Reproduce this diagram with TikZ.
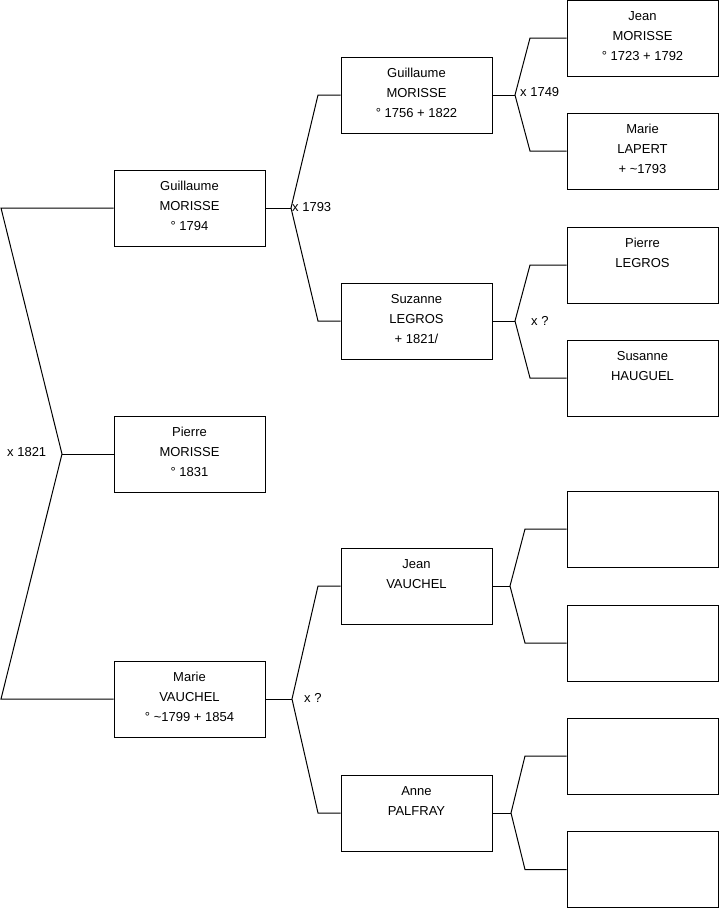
\documentclass[tikz,border=0pt]{standalone}
\usepackage{fontspec}
\setmainfont{Liberation Sans}
\usepackage{tikz}
\usetikzlibrary{positioning}

\begin{document}
\begin{tikzpicture}[x=1pt,y=-1pt]
    \tikzset{box/.style={draw,line width=1pt,minimum width=151pt,minimum height=76pt,inner sep=0pt,align=center,font=\fontsize{13}{20}\selectfont,execute at end node={\rule[-4pt]{0pt}{4pt}}}, mar/.style={anchor=west,inner sep=0pt,font=\fontsize{13}{16}\selectfont}, lnk/.style={line width=1pt}}
    \useasboundingbox (0,0) rectangle (719,908);
    % generation 1
    \node[box] (gui1) at (189.5,208) {Guillaume\\MORISSE\\° 1794};
    \node[box] (pie1) at (189.5,454) {Pierre\\MORISSE\\° 1831};
    \node[box] (mar1) at (189.5,699) {Marie\\VAUCHEL\\° \textasciitilde1799 + 1854};
    % generation 2
    \node[box] (gui2) at (416.5,95) {Guillaume\\MORISSE\\° 1756 + 1822};
    \node[box] (suz2) at (416.5,321) {Suzanne\\LEGROS\\+ 1821/};
    \node[box] (jea2) at (416.5,586) {Jean\\VAUCHEL\\\mbox{}};
    \node[box] (ann2) at (416.5,813) {Anne\\PALFRAY\\\mbox{}};
    % generation 3
    \node[box] (jea3) at (642.5,38) {Jean\\MORISSE\\° 1723 + 1792};
    \node[box] (mar3) at (642.5,151) {Marie\\LAPERT\\+ \textasciitilde1793};
    \node[box] (pie3) at (642.5,265) {Pierre\\LEGROS\\\mbox{}};
    \node[box] (sus3) at (642.5,378) {Susanne\\HAUGUEL\\\mbox{}};
    \node[box] (e1) at (642.5,529) {};
    \node[box] (e2) at (642.5,643) {};
    \node[box] (e3) at (642.5,756) {};
    \node[box] (e4) at (642.5,869.5) {};
    % marriages
    \node[mar] (x0) at (7,452) {x 1821};
    \node[mar] (x1) at (292,207) {x 1793};
    \node[mar] (x2) at (520,92) {x 1749};
    \node[mar] (x3) at (531,321) {x ?};
    \node[mar] (x4) at (304,698) {x ?};
    % brackets
    \coordinate (v0) at (62,454); \coordinate (a0) at (1,208); \coordinate (b0) at (1,699);
    \coordinate (v1) at (291,208); \coordinate (a1) at (318,95); \coordinate (b1) at (318,321);
    \coordinate (v2) at (292,699); \coordinate (a2) at (318,586); \coordinate (b2) at (318,813);
    \coordinate (v3) at (515,95); \coordinate (a3) at (530,38); \coordinate (b3) at (530,151);
    \coordinate (v4) at (515,321); \coordinate (a4) at (530,265); \coordinate (b4) at (530,378);
    \coordinate (v5) at (510,586); \coordinate (a5) at (525,529); \coordinate (b5) at (525,643);
    \coordinate (v6) at (511,813); \coordinate (a6) at (525,756); \coordinate (b6) at (525,869.5);
    \draw[lnk] (gui1.west)--(a0)--(v0)--(b0)--(mar1.west); \draw[lnk] (v0)--(pie1.west);
    \draw[lnk] (gui2.west)--(a1)--(v1)--(b1)--(suz2.west); \draw[lnk] (v1)--(gui1.east);
    \draw[lnk] (jea2.west)--(a2)--(v2)--(b2)--(ann2.west); \draw[lnk] (v2)--(mar1.east);
    \draw[lnk] (jea3.west)--(a3)--(v3)--(b3)--(mar3.west); \draw[lnk] (v3)--(gui2.east);
    \draw[lnk] (pie3.west)--(a4)--(v4)--(b4)--(sus3.west); \draw[lnk] (v4)--(suz2.east);
    \draw[lnk] (e1.west)--(a5)--(v5)--(b5)--(e2.west); \draw[lnk] (v5)--(jea2.east);
    \draw[lnk] (e3.west)--(a6)--(v6)--(b6)--(e4.west); \draw[lnk] (v6)--(ann2.east);
  \end{tikzpicture}
\end{document}
